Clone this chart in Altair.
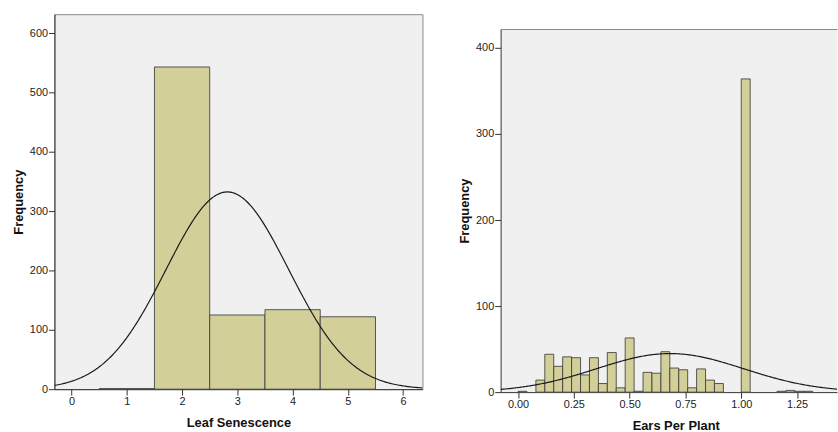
import math
import altair as alt
import pandas as pd

# ---- Leaf Senescence: scores 1..5, unit-width bins centred on each score
leaf_scores = [1, 2, 3, 4, 5]
leaf_counts = [1, 543, 125, 134, 122]

# ---- Ears Per Plant: bins of width 0.04 (lower edges) and their counts
ears_edges = [0.00, 0.08, 0.12, 0.16, 0.20, 0.24, 0.28, 0.32, 0.36, 0.40,
              0.44, 0.48, 0.52, 0.56, 0.60, 0.64, 0.68, 0.72, 0.76, 0.80,
              0.84, 0.88, 1.00, 1.16, 1.20, 1.24, 1.28]
ears_counts = [1, 14, 44, 30, 41, 40, 20, 40, 10, 46,
               5, 63, 1, 23, 22, 47, 28, 26, 5, 27,
               14, 10, 364, 1, 2, 1, 1]
EARS_BIN = 0.04

BAR_FILL = "#D3CF98"
BAR_STROKE = "#3c3c3c"
FRAME = "#8a8a8a"
FONT = "Liberation Sans"


def normal_curve(mids, counts, width, lo, hi, n=300):
    """Normal density scaled to the histogram (N * bin width * pdf)."""
    total = sum(counts)
    mean = sum(m * c for m, c in zip(mids, counts)) / total
    var = sum(c * (m - mean) ** 2 for m, c in zip(mids, counts)) / (total - 1)
    sd = math.sqrt(var)
    xs = [lo + (hi - lo) * i / (n - 1) for i in range(n)]
    ys = [total * width * math.exp(-0.5 * ((x - mean) / sd) ** 2) / (sd * math.sqrt(2 * math.pi))
          for x in xs]
    return pd.DataFrame({"x": xs, "y": ys})


def bars_frame(starts, ends, counts):
    return pd.DataFrame({"x0": starts, "x1": ends, "count": counts})


def histogram(bars, curve, xdom, ydom, yvals, xvals, xfmt, xtitle, w, h,
              title_x=None, open_right=False):
    xaxis = dict(values=xvals, format=xfmt, title=xtitle, tickSize=6,
                 labelPadding=1, titlePadding=10, grid=False)
    if title_x is not None:
        xaxis["titleX"] = title_x
    xs = alt.Scale(domain=xdom, nice=False, zero=False)
    ys = alt.Scale(domain=ydom, nice=False)
    bar = alt.Chart(bars).mark_bar(
        fill=BAR_FILL, stroke=BAR_STROKE, strokeWidth=1, strokeOpacity=0.85, clip=True
    ).encode(
        x=alt.X("x0:Q", scale=xs, axis=alt.Axis(**xaxis)),
        x2="x1:Q",
        y=alt.Y("count:Q", scale=ys,
                axis=alt.Axis(values=yvals, title="Frequency", tickSize=6,
                              labelPadding=1, titlePadding=4, grid=False)),
        y2=alt.datum(0),
    )
    if open_right:
        # frame drawn only on top (plus the two axis lines); the right side runs off the page
        line_x = alt.X("x:Q", scale=xs,
                       axis=alt.Axis(orient="top", labels=False, ticks=False, title=None,
                                     grid=False, domainColor=FRAME))
    else:
        line_x = alt.X("x:Q", scale=xs)
    line = alt.Chart(curve).mark_line(color="#1a1a1a", strokeWidth=1.2, clip=True).encode(
        x=line_x, y=alt.Y("y:Q", scale=ys)
    )
    chart = alt.layer(bar, line)
    if open_right:
        chart = chart.resolve_axis(x="independent").properties(
            view=alt.ViewConfig(fill="#F0F0F0", stroke="transparent")
        )
    return chart.properties(width=w, height=h)


# left panel
leaf_bars = bars_frame([s - 0.5 for s in leaf_scores], [s + 0.5 for s in leaf_scores], leaf_counts)
leaf_curve = normal_curve(leaf_scores, leaf_counts, 1.0, -0.31, 6.35)
left = histogram(leaf_bars, leaf_curve, [-0.31, 6.35], [0, 632],
                 [0, 100, 200, 300, 400, 500, 600], [0, 1, 2, 3, 4, 5, 6], "d",
                 "Leaf Senescence", 372, 379)

# right panel, pushed down by a blank strip above it
ears_mids = [e + EARS_BIN / 2 for e in ears_edges]
ears_bars = bars_frame(ears_edges, [e + EARS_BIN for e in ears_edges], ears_counts)
ears_curve = normal_curve(ears_mids, ears_counts, EARS_BIN, -0.078, 1.44)
right = histogram(ears_bars, ears_curve, [-0.078, 1.429], [0, 422],
                  [0, 100, 200, 300, 400], [0, 0.25, 0.5, 0.75, 1.0, 1.25], ".2f",
                  "Ears Per Plant", 340, 367, title_x=177, open_right=True)

spacer = alt.Chart(pd.DataFrame({"t": [""]})).mark_text().encode(
    text="t:N"
).properties(width=340, height=13.5, view=alt.ViewConfig(fill="white", stroke="transparent"))

right_col = alt.vconcat(spacer, right, spacing=0)

chart = alt.hconcat(left, right_col, spacing=35).properties(
    padding={"left": 12, "top": 11, "right": 0, "bottom": 0},
    background="white",
).configure_view(
    fill="#F0F0F0", stroke=FRAME, strokeWidth=1
).configure_axis(
    labelFont=FONT, labelFontSize=11, labelColor="#222222",
    titleFont=FONT, titleFontSize=13, titleFontWeight="bold", titleColor="#111111",
    domainColor="#333333", tickColor="#333333", domainWidth=1, tickWidth=1,
)

chart.save("out.html", embed_options={"renderer": "svg", "actions": False})
